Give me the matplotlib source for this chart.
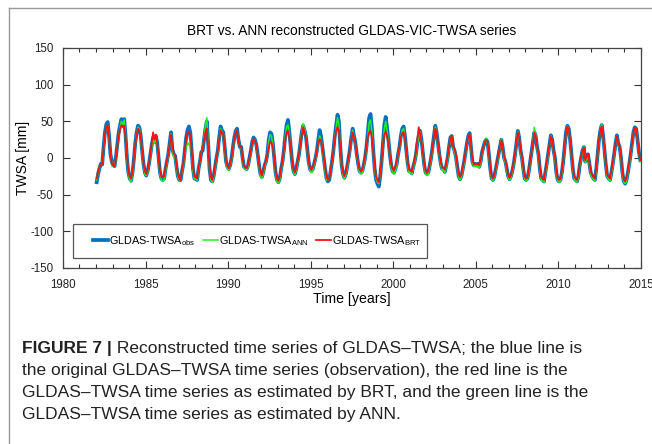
import numpy as np
import matplotlib
matplotlib.use("Agg")
import matplotlib.pyplot as plt
from matplotlib.ticker import MultipleLocator
from matplotlib.lines import Line2D
from matplotlib.patches import Rectangle

plt.rcParams['font.family'] = ['Liberation Sans', 'DejaVu Sans']
plt.rcParams['axes.unicode_minus'] = False
plt.rcParams['mathtext.fontset'] = 'custom'
plt.rcParams['mathtext.rm'] = 'Liberation Sans'

# monthly values, one row per year (Jan..Dec), 1982-2014
obs = [
    -33, -22, -14, -8, -9, 15, 35, 46, 49, 30, 5, -5,      # 1982
    -10, -11, 2, 18, 35, 45, 53, 45, 53, 30, 0, -20,       # 1983
    -28, -31, -20, -2, 20, 35, 44, 42, 30, 10, -8, -20,    # 1984
    -24, -18, -8, 5, 18, 28, 22, 30, 20, 0, -20, -28,      # 1985
    -30, -28, -15, -5, 5, 20, 35, 12, 5, 3, -12, -25,      # 1986
    -30, -30, -18, -8, 10, 28, 38, 43, 35, 10, -15, -28,   # 1987
    -28, -30, -15, -5, 8, 10, 25, 40, 50, 20, -15, -30,    # 1988
    -32, -25, -12, 0, 10, 28, 43, 38, 35, 15, -5, -12,     # 1989
    -15, -10, 0, 15, 28, 37, 40, 25, 15, 15, 0, -12,       # 1990
    -14, -15, -10, 0, 10, 22, 28, 25, 18, 5, -10, -22,     # 1991
    -26, -20, -10, -5, 5, 25, 35, 33, 20, 0, -20, -30,     # 1992
    -33, -28, -15, -5, 10, 30, 45, 52, 35, 15, -5, -18,    # 1993
    -22, -15, -5, 5, 20, 35, 44, 38, 30, 12, -5, -15,      # 1994
    -18, -15, -8, 0, 10, 25, 38, 30, 15, 0, -15, -28,      # 1995
    -32, -30, -18, -5, 10, 30, 45, 59, 50, 15, -10, -22,   # 1996
    -27, -22, -12, 0, 12, 28, 40, 30, 20, 5, -8, -18,      # 1997
    -20, -18, -10, 0, 15, 35, 55, 60, 40, 10, -15, -30,    # 1998
    -35, -39, -25, -5, 20, 45, 56, 40, 25, 5, -10, -18,    # 1999
    -20, -15, -8, 5, 15, 30, 40, 43, 30, 10, -8, -18,      # 2000
    -18, -21, -12, -5, 5, 20, 30, 37, 25, 8, -10, -20,     # 2001
    -22, -20, -10, 0, 15, 30, 44, 35, 20, 5, -8, -15,      # 2002
    -15, -19, -10, 0, 15, 28, 30, 15, 10, 2, -12, -25,     # 2003
    -29, -25, -15, -5, 8, 20, 30, 34, 15, -5, -10, -8,     # 2004
    -10, -8, -12, -5, 8, 15, 22, 25, 22, 5, -15, -28,      # 2005
    -30, -25, -15, -5, 5, 15, 25, 15, 0, -5, -15, -25,     # 2006
    -29, -25, -18, -8, 5, 20, 37, 28, 10, 0, -15, -28,     # 2007
    -30, -28, -18, -5, 8, 22, 35, 30, 15, 5, -15, -28,     # 2008
    -30, -32, -20, -8, 5, 18, 31, 25, 10, 0, -20, -30,     # 2009
    -32, -30, -20, -5, 15, 35, 44, 40, 25, 5, -15, -28,    # 2010
    -30, -32, -25, -10, 0, 10, 15, -5, 0, 5, -8, -20,      # 2011
    -25, -28, -30, -15, 5, 25, 38, 45, 30, 10, -10, -25,   # 2012
    -28, -30, -20, -8, 5, 20, 31, 20, 15, 0, -20, -32,     # 2013
    -35, -30, -20, -8, 5, 20, 35, 42, 40, 25, 8, -3,       # 2014
]

ann = [
    -30, -20, -12, -8, -8, 12, 32, 42, 45, 28, 5, -8,
    -12, -12, 0, 15, 30, 43, 50, 45, 52, 28, -2, -22,
    -30, -33, -22, -3, 18, 33, 42, 40, 28, 8, -10, -22,
    -24, -20, -10, 3, 15, 25, 20, 28, 18, -2, -22, -30,
    -32, -30, -17, -7, 3, 18, 33, 10, 0, 0, -14, -27,
    -30, -30, -20, -10, 5, 15, 20, 18, 25, 5, -18, -29,
    -28, -30, -15, -5, 8, 12, 28, 45, 55, 18, -15, -30,
    -33, -27, -14, -2, 8, 26, 40, 36, 33, 12, -7, -14,
    -16, -12, -2, 12, 25, 35, 38, 24, 14, 13, -2, -14,
    -15, -16, -12, -2, 8, 20, 26, 24, 16, 3, -12, -24,
    -28, -22, -12, -6, 3, 22, 32, 30, 18, -2, -22, -32,
    -34, -30, -17, -7, 8, 28, 42, 45, 32, 12, -7, -20,
    -23, -17, -7, 4, 20, 36, 47, 40, 30, 10, -7, -17,
    -20, -17, -10, -2, 8, 20, 30, 25, 12, -3, -18, -30,
    -30, -28, -17, -5, 8, 28, 42, 55, 45, 12, -12, -24,
    -28, -24, -14, -2, 10, 25, 38, 28, 18, 3, -10, -20,
    -22, -20, -12, -2, 12, 30, 48, 52, 35, 8, -17, -28,
    -33, -35, -22, -5, 18, 40, 50, 36, 22, 3, -12, -20,
    -22, -17, -10, 3, 13, 28, 38, 40, 28, 8, -10, -20,
    -20, -23, -14, -6, 3, 18, 28, 36, 24, 6, -12, -22,
    -24, -22, -12, -2, 13, 28, 42, 34, 18, 3, -10, -17,
    -16, -20, -12, -2, 13, 26, 29, 14, 8, 0, -14, -26,
    -30, -27, -17, -7, 6, 18, 28, 32, 13, -7, -12, -10,
    -12, -10, -14, -7, 6, 14, 24, 27, 20, 3, -17, -29,
    -31, -27, -17, -7, 3, 14, 26, 14, -2, -7, -17, -27,
    -30, -27, -20, -10, 3, 18, 36, 27, 8, -2, -17, -29,
    -31, -29, -20, -7, 6, 24, 42, 32, 14, 3, -17, -30,
    -31, -33, -22, -10, 3, 17, 30, 24, 8, -2, -22, -31,
    -33, -31, -22, -7, 13, 33, 44, 38, 23, 3, -17, -29,
    -31, -33, -27, -12, -2, 9, 16, -6, -2, 4, -10, -22,
    -27, -29, -31, -17, 3, 24, 38, 46, 28, 8, -12, -26,
    -29, -31, -22, -10, 3, 19, 30, 18, 14, -2, -22, -33,
    -35, -32, -22, -10, 3, 18, 34, 40, 38, 24, 6, -5,
]

brt = [
    -28, -18, -12, -8, -8, 13, 33, 42, 45, 28, 5, -8,
    -10, -12, 0, 15, 30, 40, 45, 42, 44, 28, 2, -18,
    -26, -28, -18, -2, 18, 32, 40, 38, 28, 10, -7, -18,
    -22, -17, -8, 5, 20, 35, 25, 32, 20, 0, -18, -26,
    -26, -25, -13, -4, 5, 18, 32, 15, 6, 4, -10, -22,
    -28, -30, -16, -7, 10, 25, 35, 36, 30, 10, -13, -25,
    -26, -28, -13, -4, 8, 12, 25, 36, 40, 15, -12, -26,
    -30, -23, -11, 0, 10, 26, 38, 35, 33, 15, -4, -11,
    -14, -9, 0, 14, 26, 35, 38, 24, 15, 15, 0, -11,
    -13, -14, -9, 0, 10, 20, 26, 24, 17, 5, -9, -20,
    -24, -18, -9, -4, 5, 15, 22, 21, 15, 0, -18, -28,
    -31, -26, -14, -4, 10, 25, 35, 37, 28, 12, -4, -16,
    -20, -14, -4, 5, 18, 32, 42, 36, 28, 12, -4, -14,
    -16, -13, -7, 0, 10, 20, 26, 24, 14, 0, -13, -26,
    -30, -28, -16, -4, 10, 26, 38, 42, 38, 14, -9, -20,
    -25, -20, -10, 0, 12, 25, 35, 28, 20, 5, -7, -16,
    -18, -16, -8, 2, 15, 28, 35, 37, 28, 8, -12, -26,
    -30, -33, -20, -3, 18, 32, 36, 30, 20, 5, -8, -15,
    -17, -12, -5, 5, 15, 28, 34, 35, 28, 10, -6, -16,
    -16, -19, -10, -3, 8, 25, 42, 33, 22, 8, -8, -18,
    -20, -18, -8, 2, 15, 28, 40, 34, 20, 6, -6, -13,
    -13, -16, -8, 2, 15, 26, 30, 16, 12, 4, -10, -22,
    -26, -23, -13, -3, 8, 20, 28, 33, 16, -3, -9, -7,
    -9, -7, -10, -3, 8, 15, 22, 25, 22, 6, -13, -26,
    -28, -24, -14, -4, 6, 15, 24, 15, 2, -4, -13, -24,
    -27, -24, -16, -6, 6, 20, 35, 28, 10, 2, -13, -26,
    -28, -27, -16, -4, 8, 22, 35, 30, 16, 6, -13, -26,
    -28, -30, -18, -6, 6, 18, 29, 25, 10, 2, -18, -28,
    -30, -28, -18, -4, 15, 34, 43, 39, 25, 6, -13, -26,
    -28, -30, -23, -8, 2, 10, 14, -3, 2, 6, -6, -18,
    -23, -26, -28, -13, 6, 25, 38, 43, 30, 12, -8, -23,
    -26, -28, -18, -6, 6, 20, 30, 20, 16, 2, -18, -30,
    -32, -28, -18, -6, 6, 20, 34, 41, 40, 25, 8, -3,
]

start_year = 1982
t = start_year + (np.arange(len(obs)) + 0.5) / 12.0

labels = ['GLDAS-TWSA$_{\\mathrm{obs}}$', 'GLDAS-TWSA$_{\\mathrm{ANN}}$', 'GLDAS-TWSA$_{\\mathrm{BRT}}$']
title = 'BRT vs. ANN reconstructed GLDAS-VIC-TWSA series'
caption = [
    'the original GLDAS\u2013TWSA time series (observation), the red line is the',
    'GLDAS\u2013TWSA time series as estimated by BRT, and the green line is the',
    'GLDAS\u2013TWSA time series as estimated by ANN.',
]

fig = plt.figure(figsize=(6.52, 4.44), dpi=100)
ax = fig.add_axes([0.0966, 0.3964, 0.8865, 0.4955])

ax.plot(t, obs, color='#0072BD', lw=2.7, label=labels[0])
ax.plot(t, ann, color='#22EE22', lw=1.1, label=labels[1])
ax.plot(t, brt, color='#FF1010', lw=1.3, label=labels[2])

ax.set_xlim(1980, 2015)
ax.set_ylim(-150, 150)
ax.xaxis.set_major_locator(MultipleLocator(5))
ax.xaxis.set_minor_locator(MultipleLocator(1))
ax.yaxis.set_major_locator(MultipleLocator(50))
ax.tick_params(which='both', direction='in', top=True, right=True, labelsize=8.3,
               colors='#333333', labelcolor='#222222')
ax.tick_params(which='major', length=5, width=0.8)
ax.tick_params(which='minor', length=3, width=0.8)
ax.tick_params(axis='x', pad=8)
ax.tick_params(axis='y', pad=7)
for s in ax.spines.values():
    s.set_color('#444444')
    s.set_linewidth(0.9)

ax.set_title(title, fontsize=9.9, pad=9)
ax.set_xlabel('Time [years]', fontsize=10.2, labelpad=1)
ax.set_ylabel('TWSA [mm]', fontsize=10, labelpad=0)

# legend box drawn separately so its size matches the original
ax.add_patch(Rectangle((0.0173, 0.045), 0.613, 0.155, transform=ax.transAxes, fill=False,
                       edgecolor='#555555', lw=0.9, zorder=5))
leg = ax.legend(loc='center left', bbox_to_anchor=(0.0519, 0.1227), frameon=False,
                ncol=3, fontsize=7.8, handlelength=1.4, handletextpad=0.05, columnspacing=0.75,
                borderpad=0, borderaxespad=0)

# outer frame of the figure panel
fig.add_artist(Line2D([9/652, 9/652], [0, 1 - 8/444], color='#999999', lw=1.0))
fig.add_artist(Line2D([9/652, 1], [1 - 8/444, 1 - 8/444], color='#999999', lw=1.0))

cap_size = 12.5
head = fig.text(22/652, 1 - 348/444, 'FIGURE 7 |', fontsize=cap_size, fontweight='bold',
                va='center', ha='left', color='#222222')
ax.annotate(' Reconstructed time series of GLDAS\u2013TWSA; the blue line is', xy=(1, 0.5),
            xycoords=head, va='center', ha='left', fontsize=cap_size,
            color='#222222', annotation_clip=False)
for i, line in enumerate(caption):
    fig.text(22/652, 1 - (370 + 22 * i)/444, line, fontsize=cap_size, va='center', ha='left',
             color='#222222')

fig.savefig('out.png', dpi=100)
